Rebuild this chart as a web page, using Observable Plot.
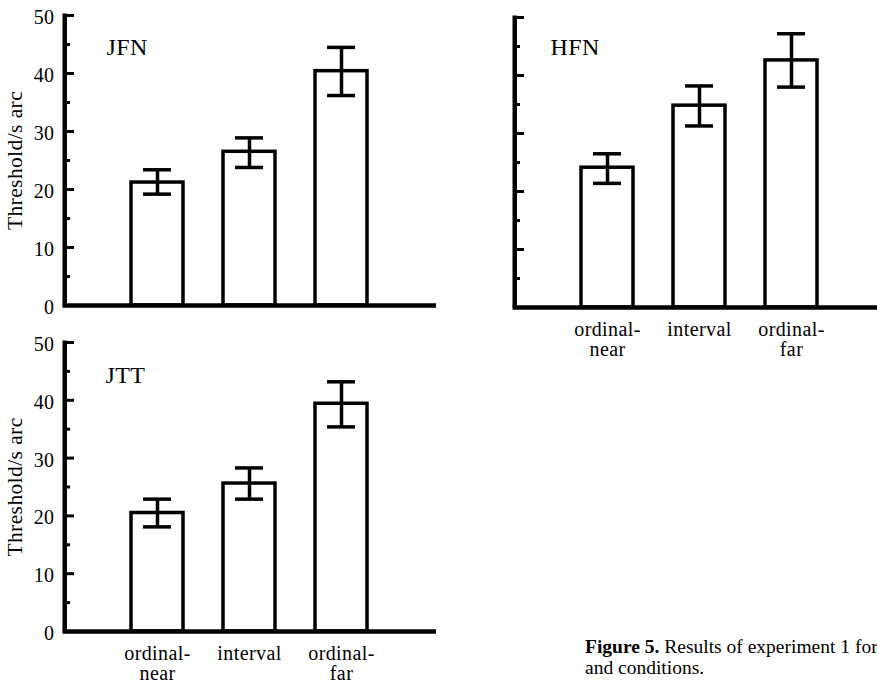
<!DOCTYPE html>
<html>
<head>
<meta charset="utf-8">
<script src="https://cdn.jsdelivr.net/npm/d3@7"></script>
<script src="https://cdn.jsdelivr.net/npm/@observablehq/plot@0.6"></script>
<style>
  html, body { margin: 0; padding: 0; background: #fff; }
  body { width: 877px; height: 683px; position: relative; overflow: hidden;
         font-family: "Liberation Serif", "Times New Roman", serif; color: #000; }
  .panel { position: absolute; }
  .panel svg text { letter-spacing: 0.4px; }
  #caption { position: absolute; left: 585px; top: 636px; font-size: 19.5px; line-height: 21px;
             white-space: nowrap; }
</style>
</head>
<body>
<div id="jfn" class="panel" style="left:0px;top:0px"></div>
<div id="hfn" class="panel" style="left:450px;top:0px"></div>
<div id="jtt" class="panel" style="left:0px;top:320px"></div>
<div id="caption"><b>Figure 5.</b> Results of experiment 1 for<br>and conditions.</div>
<script>
// ---- data ----
const conditions = ["ordinal-near", "interval", "ordinal-far"];
const conditionLabels = ["ordinal-\nnear", "interval", "ordinal-\nfar"];
const yAxisLabel = "Threshold/s arc";
const yMajorTicks = [0, 10, 20, 30, 40, 50];
const yMinorTicks = [5, 15, 25, 35, 45];

const jfnMean  = [21.2, 26.5, 40.4];
const jfnUpper = [23.4, 28.9, 44.5];
const jfnLower = [19.2, 23.8, 36.2];

const hfnMean  = [24.1, 34.8, 42.6];
const hfnUpper = [26.5, 38.2, 47.2];
const hfnLower = [21.4, 31.3, 38.0];

const jttMean  = [20.5, 25.6, 39.4];
const jttUpper = [22.9, 28.3, 43.2];
const jttLower = [18.1, 22.9, 35.4];

function rows(mean, upper, lower) {
  return conditions.map((c, i) => ({cond: c, mean: mean[i], upper: upper[i], lower: lower[i]}));
}
const labelOf = Object.fromEntries(conditions.map((c, i) => [c, conditionLabels[i]]));

function panel(o) {
  const data = rows(o.mean, o.upper, o.lower);
  const marginLeft = 65;
  const frameW = o.width - marginLeft - o.marginRight;
  return Plot.plot({
    width: o.width,
    height: o.height,
    marginLeft,
    marginRight: o.marginRight,
    marginTop: o.marginTop,
    marginBottom: o.marginBottom,
    style: {fontFamily: '"Liberation Serif", "Times New Roman", serif', fontSize: "20px", color: "black", background: "transparent", overflow: "visible"},
    x: {type: "band", domain: conditions, range: [111, 387], paddingInner: 0.435, paddingOuter: 0.2175, axis: o.xLabels ? undefined : null},
    y: {domain: [0, 50], axis: o.yLabels ? undefined : null},
    marks: [
      Plot.barY(data, {x: "cond", y: "mean", fill: "white", stroke: "black", strokeWidth: 3.5}),
      Plot.ruleX(data, {x: "cond", y1: "lower", y2: "upper", stroke: "black", strokeWidth: 3.5}),
      Plot.tickY(data, {x: "cond", y: "upper", stroke: "black", strokeWidth: 3.5, insetLeft: 12, insetRight: 12}),
      Plot.tickY(data, {x: "cond", y: "lower", stroke: "black", strokeWidth: 3.5, insetLeft: 12, insetRight: 12}),
      // y axis line
      Plot.rect([0], {y1: 0, y2: 50, insetLeft: -2.5, insetRight: frameW - 2, insetTop: -1.5, fill: "black"}),
      // inward ticks
      Plot.ruleY(yMajorTicks, {y: d => d, insetRight: frameW - 9, stroke: "black", strokeWidth: 3}),
      Plot.ruleY(yMinorTicks, {y: d => d, insetRight: frameW - 5, stroke: "black", strokeWidth: 3}),
      // x axis line
      Plot.ruleY([0], {insetLeft: -2.5, stroke: "black", strokeWidth: 4.5}),
      o.yLabels ? Plot.axisY(yMajorTicks, {tickSize: 0, tickPadding: 11, fontSize: 20, dy: 2, label: null}) : null,
      o.yLabels ? Plot.text([yAxisLabel], {frameAnchor: "left", textAnchor: "middle", rotate: -90, dx: -50, fontSize: 21.5}) : null,
      o.xLabels ? Plot.axisX({tickSize: 0, tickPadding: o.xPad, tickFormat: d => labelOf[d], fontSize: 20, lineHeight: o.xLine, label: null}) : null,
      Plot.text([o.name], {frameAnchor: "top-left", lineAnchor: "top", textAnchor: "start", dx: o.labelDx, dy: o.labelDy, fontSize: 24})
    ]
  });
}

document.getElementById("jfn").append(panel({
  name: "JFN", mean: jfnMean, upper: jfnUpper, lower: jfnLower,
  width: 440, height: 320, marginTop: 15, marginBottom: 15, marginRight: 4,
  yLabels: true, xLabels: false, labelDx: 41, labelDy: 22
}));
document.getElementById("hfn").append(panel({
  name: "HFN", mean: hfnMean, upper: hfnUpper, lower: hfnLower,
  width: 427, height: 365, marginTop: 17, marginBottom: 58, marginRight: 0,
  yLabels: false, xLabels: true, xPad: 14, xLine: 1.0, labelDx: 35, labelDy: 20
}));
document.getElementById("jtt").append(panel({
  name: "JTT", mean: jttMean, upper: jttUpper, lower: jttLower,
  width: 440, height: 363, marginTop: 22, marginBottom: 52, marginRight: 4,
  yLabels: true, xLabels: true, xPad: 14, xLine: 1.0, labelDx: 40, labelDy: 23
}));
</script>
</body>
</html>
